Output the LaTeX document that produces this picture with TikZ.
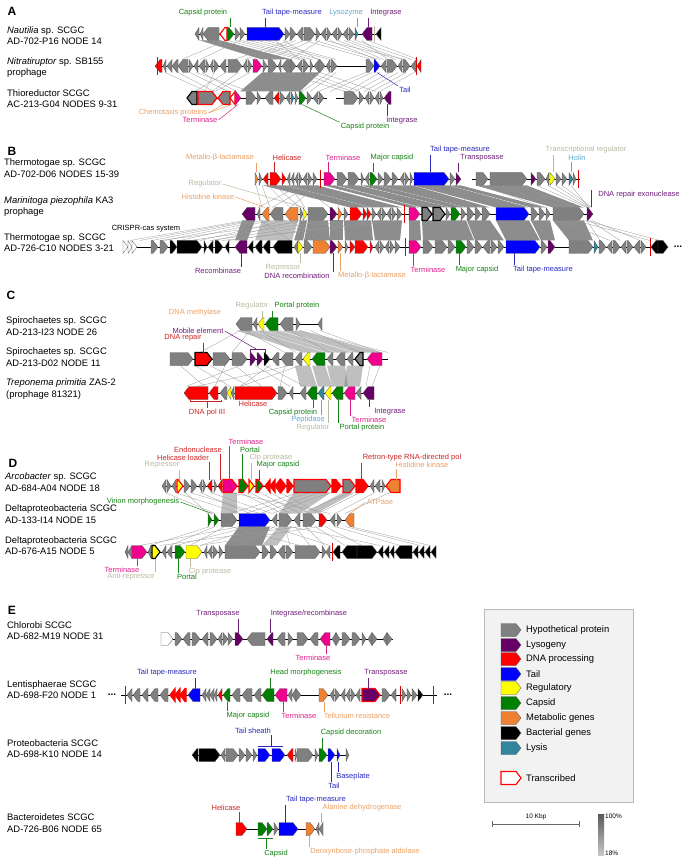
\documentclass[tikz,border=0pt]{standalone}
\usepackage{fontspec}
\setmainfont{Liberation Sans}
\usetikzlibrary{calc}
\definecolor{hypgray}{RGB}{128,128,128}
\definecolor{lysopurple}{RGB}{102,0,102}
\definecolor{dnared}{RGB}{255,0,0}
\definecolor{tailblue}{RGB}{0,0,255}
\definecolor{regyellow}{RGB}{255,255,0}
\definecolor{capgreen}{RGB}{0,128,0}
\definecolor{metorange}{RGB}{238,130,50}
\definecolor{lysisteal}{RGB}{49,133,156}
\definecolor{termpink}{RGB}{240,0,140}
\definecolor{legbg}{RGB}{242,242,242}
\definecolor{labgreen}{RGB}{20,130,20}
\definecolor{labblue}{RGB}{40,40,190}
\definecolor{labpurple}{RGB}{110,30,120}
\definecolor{labpink}{RGB}{220,30,140}
\definecolor{labred}{RGB}{205,35,35}
\definecolor{laborange}{RGB}{235,160,100}
\definecolor{labkhaki}{RGB}{185,185,160}
\definecolor{labcyan}{RGB}{95,170,210}

\tikzset{
  gbase/.style={draw=black!65, line width=0.3pt},
  ghyp/.style={gbase, fill=hypgray},
  glys/.style={gbase, fill=lysopurple},
  gdna/.style={gbase, fill=dnared},
  gtail/.style={gbase, fill=tailblue},
  greg/.style={gbase, fill=regyellow},
  gcap/.style={gbase, fill=capgreen},
  gmet/.style={gbase, fill=metorange},
  gbac/.style={gbase, fill=black},
  glyt/.style={gbase, fill=lysisteal},
  gter/.style={gbase, fill=termpink},
  gwht/.style={gbase, fill=white},
  trx/.style={draw=red, line width=1.1pt},
  thyp/.style={ghyp, trx}, twht/.style={gwht, trx}, tdna/.style={gdna, trx},
  tter/.style={gter, trx}, tcap/.style={gcap, trx}, treg/.style={greg, trx},
  tmet/.style={gmet, trx}, tlys/.style={glys, trx},
  bld/.style={draw=black, line width=1.1pt},
  bhyp/.style={ghyp, bld}, bdna/.style={gdna, bld}, breg/.style={greg, bld},
  bb/.style={black, line width=0.7pt},
  rbar/.style={red!85!black, line width=0.9pt},
  lkdark/.style={fill=black!72, fill opacity=0.62},
  lkmid/.style={fill=black!50, fill opacity=0.5},
  lklight/.style={draw=black!40, line width=0.3pt},
  lab/.style={font=\fontsize{7.5}{8}\selectfont, inner sep=1pt},
  ldr/.style={line width=0.5pt},
  spname/.style={font=\fontsize{9.4}{11.5}\selectfont, align=left, anchor=west, inner sep=0pt},
  panel/.style={font=\fontsize{12}{12}\selectfont\bfseries, inner sep=0pt},
  tiny/.style={font=\fontsize{6.5}{7}\selectfont, inner sep=1pt},
}

% one gene arrow: from, to, y, direction (1 / -1), style
\def\gh{6.5}
\newcommand{\gene}[5]{%
  \pgfmathsetmacro{\gtip}{min(5,#2-#1)}%
  \edef\gsty{#5}%
  \ifnum#4>0
    \expandafter\draw\expandafter[\gsty] (#1,#3-\gh) -- (#2-\gtip,#3-\gh) -- (#2,#3) -- (#2-\gtip,#3+\gh) -- (#1,#3+\gh) -- cycle;
  \else
    \expandafter\draw\expandafter[\gsty] (#2,#3-\gh) -- (#1+\gtip,#3-\gh) -- (#1,#3) -- (#1+\gtip,#3+\gh) -- (#2,#3+\gh) -- cycle;
  \fi}
\newcommand{\genes}[2]{\foreach \ga/\gb/\gd/\gs in {#2} {\gene{\ga}{\gb}{#1}{\gd}{\gs}}}
% homology links between two tracks
\newcommand{\bands}[4][lkdark]{\foreach \ua/\ub/\la/\lb in {#4} {\fill[#1] (\ua,#2) -- (\ub,#2) -- (\lb,#3) -- (\la,#3) -- cycle;}}
\newcommand{\strands}[4][lklight]{\foreach \ua/\la in {#4} {\draw[#1] (\ua,#2) -- (\la,#3);}}
\newcommand{\rbars}[2]{\foreach \rx in {#2} {\draw[rbar] (\rx,#1-9) -- (\rx,#1+9);}}

\begin{document}
\begin{tikzpicture}[x=1pt, y=-1pt]
  \useasboundingbox (0,0) rectangle (687,866);

  % ---------------- panel A
  \node[panel] (pA) at (12,11) {A};
  \node[spname] (spA1) at (7,35.5) {\textit{Nautilia} sp. SCGC\\AD-702-P16 NODE 14};
  \node[spname] (spA2) at (7,67.5) {\textit{Nitratiruptor} sp. SB155\\prophage};
  \node[spname] (spA3) at (7,98.5) {Thioreductor SCGC\\AC-213-G04 NODES 9-31};

  \bands{40.5}{59.5}{200/211/262/276, 211/221/276/292}
  \strands{40.5}{59.5}{228/300, 236/306, 242/312, 250/320, 258/330, 266/336, 275/300, 283/318, 290/234, 296/245, 304/252, 312/268, 320/290, 330/376, 338/384, 344/396, 350/402, 356/412, 362/388, 368/418, 305/372, 315/380, 325/405, 240/200, 226/182}
  \bands{72.5}{91.5}{262/290/240/262, 290/320/262/300}
  \strands{72.5}{91.5}{165/207, 178/214, 190/228, 202/236, 214/205, 226/195, 238/212, 330/302, 336/310, 366/318, 372/330, 380/348, 390/355, 398/364, 406/372, 414/380, 300/352, 310/360, 320/376, 285/345, 196/250, 250/215}

  \draw[bb] (195,34) -- (381,34);
  \draw[bb] (155,66) -- (421,66);
  \draw[bb] (187,98) -- (327,98);
  \draw[bb] (336,98) -- (391,98);
  \genes{34}{195/199/-1/ghyp, 200/203/-1/ghyp, 203/219/-1/ghyp, 220/227/-1/twht, 227/234/1/gcap, 235/240/1/ghyp, 240/245/1/ghyp, 247/284/1/gtail, 285/290/1/ghyp, 290/296/1/ghyp, 297/303/-1/ghyp, 304/315/1/ghyp, 316/320/1/ghyp, 321/326/-1/ghyp, 327/331/1/ghyp, 332/337/-1/ghyp, 338/342/1/ghyp, 343/348/-1/ghyp, 349/354/1/ghyp, 355/358/1/glyt, 362/372/-1/glys, 376/381/-1/gbac}
  \draw[draw={rgb,255:red,200;green,180;blue,150}, line width=1pt] (374,26) -- (374,42);
  \genes{66}{155/162/-1/gdna, 163/166/-1/ghyp, 167/172/-1/ghyp, 172/178/-1/ghyp, 178/188/-1/ghyp, 189/193/1/ghyp, 194/198/-1/ghyp, 199/205/-1/ghyp, 206/209/1/ghyp, 210/213/-1/ghyp, 214/219/1/ghyp, 220/226/-1/ghyp, 228/242/1/ghyp, 243/247/-1/ghyp, 248/252/1/ghyp, 253/262/1/gter, 263/267/1/ghyp, 268/277/1/ghyp, 278/281/-1/ghyp, 282/291/-1/ghyp, 291/296/1/ghyp, 297/302/-1/ghyp, 303/309/1/ghyp, 310/313/1/ghyp, 314/319/-1/ghyp, 319/325/1/ghyp, 326/330/-1/ghyp, 331/337/1/ghyp, 366/374/1/ghyp, 374/380/1/gtail, 381/386/-1/ghyp, 387/397/1/ghyp, 398/402/-1/ghyp, 403/410/1/ghyp, 411/416/-1/ghyp, 417/421/-1/gdna}
  \rbars{66}{157, 416}
  \genes{98}{187/197/-1/bhyp, 198/217/1/thyp, 218/230/-1/thyp, 230/235/-1/twht, 235/241/1/gter, 246/256/1/ghyp, 257/261/1/ghyp, 265/273/-1/ghyp, 274/279/-1/gdna, 280/285/1/ghyp, 286/290/-1/ghyp, 291/294/1/glyt, 295/298/1/ghyp, 299/306/1/gcap, 307/312/1/ghyp, 313/318/-1/ghyp, 319/324/1/ghyp, 344/358/1/ghyp, 359/364/1/ghyp, 365/369/-1/ghyp, 370/374/1/ghyp, 375/379/-1/ghyp, 380/383/1/ghyp, 384/391/-1/glys}

  \node[lab, labgreen] (lAcap) at (203,13) {Capsid protein};
  \coordinate (gAcap) at (230,27.5);
  \draw[ldr, labgreen] (lAcap.south -| gAcap) -- (gAcap);
  \node[lab, labblue] (lAtape) at (292,13) {Tail tape-measure};
  \coordinate (gAtape) at (265,27.5);
  \draw[ldr, labblue] (lAtape.south -| gAtape) -- (gAtape);
  \node[lab, labcyan] (lAlyso) at (346,13) {Lysozyme};
  \coordinate (gAlyso) at (357,27.5);
  \draw[ldr, labcyan] (lAlyso.south -| gAlyso) -- (gAlyso);
  \node[lab, labpurple] (lAint) at (386,13) {Integrase};
  \coordinate (gAint) at (368,27.5);
  \draw[ldr, labpurple] (lAint.south -| gAint) -- (gAint);
  \node[lab, labblue] (lAtail) at (405,90) {Tail};
  \coordinate (gAtail) at (377,72.5);
  \draw[ldr, labblue] (lAtail.north west) -- (gAtail);
  \node[lab, laborange] (lAchem) at (173,113) {Chemotaxis proteins};
  \coordinate (gAchemA) at (223,104.5);
  \coordinate (gAchemB) at (232,104.5);
  \draw[ldr, laborange] (lAchem.east) -- (gAchemA);
  \draw[ldr, laborange] (lAchem.east) -- (gAchemB);
  \node[lab, labpink] (lAter) at (200,120) {Terminase};
  \coordinate (gAter) at (238,104.5);
  \draw[ldr, labpink] (lAter.east) -- (gAter);
  \node[lab, labgreen] (lAcapb) at (365,127) {Capsid protein};
  \coordinate (gAcapb) at (302,104.5);
  \draw[ldr, labgreen] (lAcapb.north west) -- (gAcapb);
  \node[lab, labpurple] (lAintb) at (402,121) {Integrase};
  \coordinate (gAintb) at (387,104.5);
  \draw[ldr, labpurple] (gAintb) -- (gAintb |- lAintb.north);

  % ---------------- panel B
  \node[panel] (pB) at (12,151) {B};
  \node[spname] (spB1) at (4,168) {Thermotogae sp. SCGC\\AD-702-D06 NODES 15-39};
  \node[spname] (spB2) at (4,206.5) {\textit{Marinitoga piezophila} KA3\\prophage};
  \node[spname] (spB3) at (4,242.5) {Thermotogae sp. SCGC\\AD-726-C10 NODES 3-21};

  \bands{185.5}{207.5}{263/286/350/371, 287/318/372/402, 324/335/409/420, 337/359/422/450, 361/377/451/466, 378/413/467/490, 414/449/496/529, 450/461/531/546, 476/527/553/584}
  \strands{185.5}{207.5}{256/262, 262/270, 268/290, 275/300, 290/305, 300/258, 310/272, 318/290, 537/587, 548/588, 556/590, 562/592, 571/589, 300/330, 340/338, 480/545, 500/560, 520/575, 455/470}
  \bands{220.5}{240.5}{242/255/235/247, 300/307/294/303, 308/328/304/330, 330/343/330/343, 344/371/345/373, 372/402/375/400, 409/420/409/421, 422/466/423/474, 467/490/475/504, 496/529/506/540, 531/550/541/555, 553/584/569/593}
  \bands[lkmid]{220.5}{240.5}{262/298/255/292}
  \strands{220.5}{240.5}{245/130, 250/140, 255/152, 262/165, 270/180, 285/200, 300/215, 310/160, 330/190, 350/210, 380/228, 400/222, 587/600, 590/620, 592/640, 585/660, 560/610, 575/650, 260/290, 290/320}

  \draw[bb] (255,179) -- (461,179);
  \draw[bb] (472,179) -- (580,179);
  \draw[bb] (242,214) -- (593,214);
  \draw[bb] (123,247) -- (668,247);
  \genes{179}{255/258/1/gmet, 259/262/1/ghyp, 263/268/-1/gdna, 270/281/1/gdna, 282/286/1/gdna, 287/290/-1/ghyp, 291/294/-1/ghyp, 295/298/-1/ghyp, 299/302/1/ghyp, 303/307/-1/ghyp, 308/312/1/ghyp, 313/317/1/ghyp, 324/335/1/gter, 337/347/1/ghyp, 348/359/1/ghyp, 361/364/1/ghyp, 365/369/-1/ghyp, 370/377/1/gcap, 378/383/1/ghyp, 384/391/1/ghyp, 392/398/1/ghyp, 400/404/-1/ghyp, 405/409/1/ghyp, 410/413/1/ghyp, 414/449/1/gtail, 450/455/1/ghyp, 456/461/1/glys, 476/488/1/ghyp, 490/527/1/ghyp, 531/536/1/glys, 537/545/1/ghyp, 546/549/-1/ghyp, 550/555/1/greg, 556/561/1/ghyp, 562/567/1/ghyp, 569/573/1/glyt, 573/576/1/ghyp}
  \rbars{179}{320, 578}
  \genes{214}{242/255/-1/glys, 257/260/-1/ghyp, 262/269/-1/gmet, 270/283/-1/ghyp, 285/298/-1/gmet, 300/303/1/ghyp, 303/307/1/greg, 308/328/1/ghyp, 330/337/1/glys, 338/342/1/gmet, 344/348/1/ghyp, 350/362/1/gdna, 363/367/1/gdna, 367/371/1/gdna, 372/376/1/ghyp, 377/381/-1/ghyp, 382/386/1/ghyp, 387/391/-1/ghyp, 392/396/1/ghyp, 397/402/1/ghyp, 409/420/1/gter, 422/432/1/bhyp, 433/445/1/bhyp, 446/450/1/ghyp, 451/460/1/gcap, 461/466/1/ghyp, 467/474/1/ghyp, 475/481/1/ghyp, 482/490/1/ghyp, 496/529/1/gtail, 531/538/1/ghyp, 539/545/1/ghyp, 546/550/1/ghyp, 553/584/1/ghyp, 587/593/1/glys}
  \rbars{214}{404}
  \genes{247}{123/128/1/gwht, 128/132/1/gwht, 132/137/1/gwht, 151/158/1/ghyp, 160/168/1/ghyp, 170/177/1/gbac, 177/202/1/gbac, 204/207/1/gbac, 208/213/-1/gbac, 215/223/1/gbac, 225/229/-1/gbac, 235/247/-1/glys, 248/253/-1/gbac, 255/262/-1/gbac, 263/270/-1/gbac, 273/292/-1/gbac, 294/298/-1/ghyp, 298/303/1/greg, 304/312/1/ghyp, 313/330/1/gmet, 330/337/1/glys, 338/343/1/gmet, 345/348/1/ghyp, 350/355/1/gdna, 355/368/1/gdna, 370/373/1/gdna, 375/379/-1/ghyp, 380/384/1/ghyp, 385/389/-1/ghyp, 390/394/1/ghyp, 395/400/1/ghyp, 409/421/1/gter, 423/433/1/ghyp, 435/447/1/ghyp, 448/455/1/ghyp, 456/466/1/gcap, 467/474/1/ghyp, 475/482/1/ghyp, 483/490/-1/ghyp, 491/497/1/ghyp, 498/504/1/ghyp, 506/540/1/gtail, 541/547/1/ghyp, 548/555/1/glys, 569/593/1/ghyp, 594/598/1/glyt, 599/606/1/ghyp, 607/612/-1/ghyp, 613/620/1/ghyp, 621/626/-1/ghyp, 627/633/1/ghyp, 634/640/-1/ghyp, 641/646/1/ghyp, 651/658/-1/gbac, 658/668/1/gbac}
  \rbars{247}{405, 650}
  \node[font=\bfseries] (dotsB) at (678,247) {...};

  \node[lab, laborange] (lBmet) at (220,158) {Metallo-β-lactamase};
  \coordinate (gBmet) at (256,172.5);
  \draw[ldr, laborange] (lBmet.south -| gBmet) -- (gBmet);
  \node[lab, labred] (lBhel) at (287,158) {Helicase};
  \coordinate (gBhel) at (274,172.5);
  \draw[ldr, labred] (lBhel.south -| gBhel) -- (gBhel);
  \node[lab, labpink] (lBter) at (343,158) {Terminase};
  \coordinate (gBter) at (328,172.5);
  \draw[ldr, labpink] (lBter.south -| gBter) -- (gBter);
  \node[lab, labgreen] (lBcap) at (392,158) {Major capsid};
  \coordinate (gBcap) at (373,172.5);
  \draw[ldr, labgreen] (lBcap.south -| gBcap) -- (gBcap);
  \node[lab, labblue] (lBtape) at (460,150) {Tail tape-measure};
  \coordinate (gBtape) at (430,172.5);
  \draw[ldr, labblue] (lBtape.south -| gBtape) -- (gBtape);
  \node[lab, labpurple] (lBtra) at (482,158) {Transposase};
  \coordinate (gBtra) at (458,172.5);
  \draw[ldr, labpurple] (lBtra.south -| gBtra) -- (gBtra);
  \node[lab, labkhaki] (lBtreg) at (586,150) {Transcriptional regulator};
  \coordinate (gBtreg) at (553,172.5);
  \draw[ldr, labkhaki] (lBtreg.south -| gBtreg) -- (gBtreg);
  \node[lab, labcyan] (lBhol) at (577,158) {Holin};
  \coordinate (gBhol) at (571,172.5);
  \draw[ldr, labcyan] (lBhol.south -| gBhol) -- (gBhol);
  \node[lab, labkhaki] (lBreg) at (205,184) {Regulator};
  \coordinate (gBreg) at (304,207.5);
  \draw[ldr, labkhaki] (lBreg.east) -- (gBreg);
  \node[lab, laborange] (lBhis) at (208,197) {Histidine kinase};
  \coordinate (gBhis) at (265,207.5);
  \draw[ldr, laborange] (lBhis.east) -- (gBhis);
  \node[lab, labpurple] (lBexo) at (639,195) {DNA repair exonuclease};
  \coordinate (gBexo) at (591,207.5);
  \draw[ldr, labpurple] (gBexo) -- (gBexo |- lBexo.north);
  \node[lab, black] (lBcrispr) at (146,229) {CRISPR-cas system};
  \node[lab, labpurple] (lBrec) at (218,271) {Recombinase};
  \coordinate (gBrec) at (241,253.5);
  \draw[ldr, labpurple] (gBrec) -- (gBrec |- lBrec.north);
  \node[lab, labkhaki] (lBrep) at (283,268) {Repressor};
  \coordinate (gBrep) at (300,253.5);
  \draw[ldr, labkhaki] (gBrep) -- (gBrep |- lBrep.north);
  \node[lab, labpurple] (lBdrec) at (297,276) {DNA recombination};
  \coordinate (gBdrec) at (333,253.5);
  \draw[ldr, labpurple] (gBdrec) -- (gBdrec |- lBdrec.north);
  \node[lab, laborange] (lBmetb) at (372,276) {Metallo-β-lactamase};
  \coordinate (gBmetb) at (340,253.5);
  \draw[ldr, laborange] (gBmetb) -- (gBmetb |- lBmetb.north);
  \node[lab, labpink] (lBterb) at (428,270) {Terminase};
  \coordinate (gBterb) at (413,253.5);
  \draw[ldr, labpink] (gBterb) -- (gBterb |- lBterb.north);
  \node[lab, labgreen] (lBcapb) at (477,270) {Major capsid};
  \coordinate (gBcapb) at (459,253.5);
  \draw[ldr, labgreen] (gBcapb) -- (gBcapb |- lBcapb.north);
  \node[lab, labblue] (lBtapeb) at (543,270) {Tail tape-measure};
  \coordinate (gBtapeb) at (514,253.5);
  \draw[ldr, labblue] (gBtapeb) -- (gBtapeb |- lBtapeb.north);

  % ---------------- panel C
  \node[panel] (pC) at (11,295) {C};
  \node[spname] (spC1) at (6,326) {Spirochaetes sp. SCGC\\AD-213-I23 NODE 26};
  \node[spname] (spC2) at (6,357) {Spirochaetes sp. SCGC\\AD-213-D02 NODE 11};
  \node[spname] (spC3) at (6,389) {\textit{Treponema primitia} ZAS-2\\(prophage 81321)};

  \bands[lkmid]{330.5}{352.5}{236/252/303/325, 253/264/327/335, 265/278/336/353, 280/300/355/382}
  \strands{330.5}{352.5}{300/388, 320/380, 240/200, 250/232, 260/296, 290/330, 310/360, 245/285}
  \bands[lkmid]{365.5}{386.5}{295/310/300/317, 312/325/318/332, 327/345/332/348, 347/363/344/360}
  \strands{365.5}{386.5}{180/205, 195/230, 210/250, 225/215, 235/262, 240/186, 255/290, 265/305, 270/240, 285/280, 380/372, 370/366, 290/196, 300/240}

  \draw[bb] (236,324) -- (322,324);
  \draw[bb] (170,359) -- (388,359);
  \draw[bb] (184,393) -- (374,393);
  \genes{324}{236/252/-1/ghyp, 253/257/-1/ghyp, 258/264/-1/greg, 265/278/-1/gcap, 280/293/-1/ghyp, 296/300/1/ghyp, 318/322/-1/ghyp}
  \genes{359}{170/193/1/ghyp, 195/212/1/bdna, 213/230/1/ghyp, 232/247/1/ghyp, 250/256/1/glys, 257/263/1/glys, 264/270/1/gbac, 272/279/-1/ghyp, 281/293/-1/ghyp, 295/302/-1/ghyp, 303/310/-1/greg, 312/325/-1/gcap, 327/333/-1/ghyp, 336/345/-1/ghyp, 347/353/-1/ghyp, 355/363/-1/bhyp, 367/382/-1/gter}
  \genes{393}{184/208/-1/gdna, 209/218/-1/gdna, 220/227/-1/ghyp, 227/231/-1/greg, 231/234/-1/ghyp, 235/277/1/gdna, 278/287/1/ghyp, 289/293/-1/ghyp, 300/306/-1/ghyp, 307/317/-1/gcap, 318/324/-1/glyt, 325/331/-1/greg, 332/343/-1/gcap, 344/355/-1/gter, 356/361/-1/ghyp, 363/374/-1/glys}

  \node[lab, laborange] (lCmeth) at (195,313) {DNA methylase};
  \node[lab, labkhaki] (lCreg) at (252,306) {Regulator};
  \coordinate (gCreg) at (262,317.5);
  \draw[ldr, labkhaki] (lCreg.south -| gCreg) -- (gCreg);
  \node[lab, labgreen] (lCport) at (297,306) {Portal protein};
  \coordinate (gCport) at (272,317.5);
  \draw[ldr, labgreen] (lCport.south -| gCport) -- (gCport);
  \node[lab, labpurple] (lCmob) at (198,331) {Mobile element};
  \coordinate (gCmob) at (257,349.5);
  \draw[ldr, labpurple] (lCmob.east) -- (gCmob);
  \draw[ldr, labpurple] ($(gCmob)+(-7,3)$) |- ($(gCmob)+(8,0)$) -- ++(0,3);
  \node[lab, labred] (lCrep) at (183,338) {DNA repair};
  \coordinate (gCrep) at (203,352.5);
  \draw[ldr, labred] (lCrep.south -| gCrep) -- (gCrep);
  \node[lab, labred] (lCpol) at (207,413) {DNA pol III};
  \coordinate (gCpol) at (207,401.5);
  \draw[ldr, labred] ($(gCpol)+(-17,-2)$) |- ($(gCpol)+(14,0)$) -- ++(0,-2);
  \draw[ldr, labred] (gCpol) -- (gCpol |- lCpol.north);
  \node[lab, labred] (lChel) at (253,404) {Helicase};
  \node[lab, labgreen] (lCcap) at (293,413) {Capsid protein};
  \coordinate (gCcap) at (313,399.5);
  \draw[ldr, labgreen] (gCcap) -- (gCcap |- lCcap.north);
  \node[lab, labcyan] (lCpep) at (308,420) {Peptidase};
  \coordinate (gCpep) at (321,399.5);
  \draw[ldr, labcyan] (gCpep) -- (gCpep |- lCpep.north);
  \node[lab, labkhaki] (lCregb) at (313,427.5) {Regulator};
  \coordinate (gCregb) at (328,399.5);
  \draw[ldr, labkhaki] (gCregb) -- (gCregb |- lCregb.north);
  \node[lab, labgreen] (lCportb) at (362,428) {Portal protein};
  \coordinate (gCportb) at (338,399.5);
  \draw[ldr, labgreen] (gCportb) -- (gCportb |- lCportb.north);
  \node[lab, labpink] (lCter) at (369,419.5) {Terminase};
  \coordinate (gCter) at (350,399.5);
  \draw[ldr, labpink] (gCter) -- (gCter |- lCter.north);
  \node[lab, labpurple] (lCint) at (390,412) {Integrase};
  \coordinate (gCint) at (369,399.5);
  \draw[ldr, labpurple] (gCint) -- (gCint |- lCint.north);

  % ---------------- panel D
  \node[panel] (pD) at (13,463) {D};
  \node[spname] (spD1) at (5,482) {\textit{Arcobacter} sp. SCGC\\AD-684-A04 NODE 18};
  \node[spname] (spD2) at (5,514) {Deltaproteobacteria SCGC\\AD-133-I14 NODE 15};
  \node[spname] (spD3) at (5,545.5) {Deltaproteobacteria SCGC\\AD-676-A15 NODE 5};

  \bands[lkmid]{492.5}{513.5}{223/237/221/237, 294/331/279/300, 343/355/303/316}
  \strands{492.5}{513.5}{165/215, 175/240, 190/260, 200/250, 210/272, 240/282, 250/290, 260/300, 270/310, 280/320, 300/230, 310/245, 320/260, 330/272, 350/300, 360/318, 375/335, 390/345, 185/208, 230/330}
  \bands{526.5}{545.5}{239/270/225/262}
  \bands[lkmid]{526.5}{545.5}{279/292/262/277}
  \strands{526.5}{545.5}{210/150, 215/170, 225/190, 240/140, 250/176, 260/200, 275/240, 285/290, 295/310, 305/325, 315/345, 325/362, 335/400, 345/420, 350/430, 300/160, 320/200, 230/300, 270/330, 290/380}

  \draw[bb] (162,486) -- (400,486);
  \draw[bb] (208,520) -- (354,520);
  \draw[bb] (125,552) -- (436,552);
  \genes{486}{162/166/-1/ghyp, 167/171/1/ghyp, 172/176/-1/ghyp, 177/183/1/treg, 184/190/1/ghyp, 191/197/1/ghyp, 199/202/-1/ghyp, 203/206/1/ghyp, 207/212/-1/gdna, 214/217/1/ghyp, 218/222/-1/gdna, 223/237/1/tter, 239/248/1/tcap, 249/254/1/treg, 256/263/1/tcap, 265/270/-1/tdna, 270/275/-1/tdna, 275/280/-1/tdna, 280/286/1/tdna, 287/293/1/tdna, 294/331/1/thyp, 332/341/1/tdna, 343/355/1/thyp, 356/368/1/tdna, 370/374/-1/ghyp, 375/380/-1/ghyp, 382/385/1/ghyp, 386/400/-1/tmet}
  \genes{520}{208/212/1/gcap, 214/219/1/gcap, 221/237/1/ghyp, 239/270/1/gtail, 272/277/-1/ghyp, 279/292/1/ghyp, 294/300/-1/ghyp, 303/316/1/ghyp, 319/327/1/gdna, 330/335/-1/ghyp, 337/342/1/ghyp, 345/354/-1/gmet}
  \genes{552}{125/128/-1/ghyp, 128/132/-1/ghyp, 132/147/1/gter, 148/151/-1/ghyp, 152/160/1/breg, 162/166/-1/ghyp, 167/172/-1/ghyp, 175/185/1/gcap, 186/202/1/greg, 204/207/-1/ghyp, 208/212/-1/ghyp, 213/218/1/ghyp, 219/223/1/ghyp, 225/260/1/ghyp, 262/269/1/ghyp, 270/277/1/ghyp, 278/285/-1/ghyp, 286/293/1/ghyp, 295/320/1/ghyp, 322/326/1/ghyp, 326/330/-1/ghyp, 333/340/-1/gbac, 342/357/-1/gbac, 357/377/1/gbac, 378/383/-1/gbac, 384/389/-1/gbac, 390/394/-1/gbac, 395/412/-1/gbac, 413/418/-1/gbac, 419/424/-1/gbac, 425/430/-1/gbac, 431/436/-1/gbac}
  \rbars{552}{332}

  \node[lab, labpink] (lDter) at (246,442) {Terminase};
  \coordinate (gDter) at (229,479.5);
  \draw[ldr, labpink] (lDter.south -| gDter) -- (gDter);
  \node[lab, labred] (lDend) at (198,450) {Endonuclease};
  \coordinate (gDend) at (220,479.5);
  \draw[ldr, labred] (lDend.south -| gDend) -- (gDend);
  \node[lab, labgreen] (lDport) at (250,450) {Portal};
  \coordinate (gDport) at (242,479.5);
  \draw[ldr, labgreen] (lDport.south -| gDport) -- (gDport);
  \node[lab, labred] (lDhl) at (183,458) {Helicase loader};
  \coordinate (gDhl) at (209,479.5);
  \draw[ldr, labred] (lDhl.south -| gDhl) -- (gDhl);
  \node[lab, labkhaki] (lDclp) at (271,458) {Clp protease};
  \coordinate (gDclp) at (251,479.5);
  \draw[ldr, labkhaki] (lDclp.south -| gDclp) -- (gDclp);
  \node[lab, labkhaki] (lDrep) at (162,465) {Repressor};
  \coordinate (gDrep) at (179,479.5);
  \draw[ldr, labkhaki] (lDrep.south -| gDrep) -- (gDrep);
  \node[lab, labgreen] (lDcap) at (278,465) {Major capsid};
  \coordinate (gDcap) at (259,479.5);
  \draw[ldr, labgreen] (lDcap.south -| gDcap) -- (gDcap);
  \node[lab, labred] (lDret) at (412,458) {Retron-type RNA-directed pol};
  \coordinate (gDret) at (361,479.5);
  \draw[ldr, labred] (lDret.south -| gDret) -- (gDret);
  \node[lab, laborange] (lDhis) at (422,465) {Histidine kinase};
  \coordinate (gDhis) at (396,479.5);
  \draw[ldr, laborange] (lDhis.south -| gDhis) -- (gDhis);
  \node[lab, labgreen] (lDvir) at (143,502) {Virion morphogenesis};
  \coordinate (gDvir) at (212,513.5);
  \draw[ldr, labgreen] (lDvir.east) -- (gDvir);
  \node[lab, laborange] (lDatp) at (380,502) {ATPase};
  \coordinate (gDatp) at (350,513.5);
  \draw[ldr, laborange] (lDatp.west) -- (gDatp);
  \node[lab, labpink] (lDterb) at (122,570) {Terminase};
  \coordinate (gDterb) at (137,558.5);
  \draw[ldr, labpink] (gDterb) -- (gDterb |- lDterb.north);
  \node[lab, labkhaki] (lDanti) at (131,577) {Anti-repressor};
  \coordinate (gDanti) at (155,558.5);
  \draw[ldr, labkhaki] (gDanti) -- (gDanti |- lDanti.north);
  \node[lab, labgreen] (lDportb) at (187,577) {Portal};
  \coordinate (gDportb) at (178,558.5);
  \draw[ldr, labgreen] (gDportb) -- (gDportb |- lDportb.north);
  \node[lab, labkhaki] (lDclpb) at (210,572) {Clp protease};
  \coordinate (gDclpb) at (190,558.5);
  \draw[ldr, labkhaki] (gDclpb) -- (gDclpb |- lDclpb.north);

  % ---------------- panel E
  \node[panel] (pE) at (12,610) {E};
  \node[spname] (spE1) at (7,630.5) {Chlorobi SCGC\\AD-682-M19 NODE 31};
  \node[spname] (spE2) at (7,689.5) {Lentisphaerae SCGC\\AD-698-F20 NODE 1};
  \node[spname] (spE3) at (7,748.5) {Proteobacteria SCGC\\AD-698-K10 NODE 14};
  \node[spname] (spE4) at (7,823) {Bacteroidetes SCGC\\AD-726-B06 NODE 65};

  \draw[bb] (161,639) -- (393,639);
  \draw[bb] (121,695) -- (437,695);
  \draw[bb] (192,755) -- (349,755);
  \draw[bb] (236,829) -- (323,829);
  \genes{639}{161/173/1/gwht, 175/182/1/ghyp, 183/190/-1/ghyp, 192/200/1/ghyp, 202/208/-1/ghyp, 210/217/1/ghyp, 218/222/-1/ghyp, 223/228/1/ghyp, 228/233/1/ghyp, 235/243/1/glys, 247/265/-1/ghyp, 267/273/-1/glys, 277/285/-1/ghyp, 288/293/1/ghyp, 297/308/1/ghyp, 310/318/-1/ghyp, 320/330/-1/gter, 332/336/-1/ghyp, 336/340/1/ghyp, 342/350/1/ghyp, 352/360/1/ghyp, 362/366/1/ghyp, 368/372/-1/ghyp, 372/377/1/ghyp, 383/387/-1/ghyp, 387/392/1/ghyp}
  \genes{695}{127/132/-1/ghyp, 133/140/-1/ghyp, 142/148/-1/ghyp, 150/158/-1/ghyp, 160/168/-1/ghyp, 170/175/-1/tdna, 175/180/-1/tdna, 180/186/-1/tdna, 188/200/-1/gtail, 202/206/-1/ghyp, 206/210/-1/ghyp, 210/214/-1/ghyp, 214/217/-1/ghyp, 218/222/-1/gdna, 223/230/-1/gcap, 232/240/-1/ghyp, 242/252/-1/ghyp, 254/261/-1/ghyp, 262/274/-1/gcap, 275/287/-1/gter, 288/292/-1/ghyp, 292/296/-1/ghyp, 296/301/1/ghyp, 319/328/1/gmet, 330/334/-1/ghyp, 335/340/1/ghyp, 341/345/-1/ghyp, 346/350/-1/ghyp, 351/355/1/ghyp, 356/360/-1/ghyp, 362/380/1/tlys, 382/390/1/ghyp, 391/396/-1/ghyp, 402/406/1/ghyp, 407/411/1/ghyp, 412/417/1/ghyp, 418/423/1/gbac}
  \rbars{695}{125, 400, 433}
  \node[font=\bfseries] (dotsEl) at (112,695) {...};
  \node[font=\bfseries] (dotsEr) at (448,695) {...};
  \genes{755}{192/198/-1/gbac, 199/220/1/gbac, 221/225/-1/ghyp, 226/238/1/ghyp, 239/245/1/ghyp, 246/252/1/ghyp, 253/257/1/ghyp, 258/270/1/gtail, 272/285/1/gtail, 287/293/-1/gdna, 295/297/1/ghyp, 297/313/1/ghyp, 315/318/1/ghyp, 319/327/1/gcap, 328/335/1/gtail, 337/340/1/gtail, 346/349/1/ghyp}
  \genes{829}{236/247/1/gdna, 258/267/1/gcap, 267/273/1/gcap, 274/278/1/ghyp, 279/298/1/gtail, 306/315/1/gmet, 316/319/-1/ghyp, 319/323/-1/ghyp}

  \node[lab, labpurple] (lEtra) at (218,614) {Transposase};
  \coordinate (gEtra) at (238,632.5);
  \draw[ldr, labpurple] (lEtra.south -| gEtra) -- (gEtra);
  \node[lab, labpurple] (lEint) at (309,614) {Integrase/recombinase};
  \coordinate (gEint) at (270,632.5);
  \draw[ldr, labpurple] (lEint.south -| gEint) -- (gEint);
  \node[lab, labpink] (lEter) at (313,658) {Terminase};
  \coordinate (gEter) at (326,645.5);
  \draw[ldr, labpink] (gEter) -- (gEter |- lEter.north);
  \node[lab, labblue] (lEtape) at (167,673) {Tail tape-measure};
  \coordinate (gEtape) at (195,688.5);
  \draw[ldr, labblue] (lEtape.south -| gEtape) -- (gEtape);
  \node[lab, labgreen] (lEhead) at (306,673) {Head morphogenesis};
  \coordinate (gEhead) at (270,688.5);
  \draw[ldr, labgreen] (lEhead.south -| gEhead) -- (gEhead);
  \node[lab, labpurple] (lEtrab) at (386,673) {Transposase};
  \coordinate (gEtrab) at (368,688.5);
  \draw[ldr, labpurple] (lEtrab.south -| gEtrab) -- (gEtrab);
  \node[lab, labgreen] (lEcap) at (248,716) {Major capsid};
  \coordinate (gEcap) at (227,701.5);
  \draw[ldr, labgreen] (gEcap) -- (gEcap |- lEcap.north);
  \node[lab, labpink] (lEterb) at (299,716) {Terminase};
  \coordinate (gEterb) at (283,701.5);
  \draw[ldr, labpink] (gEterb) -- (gEterb |- lEterb.north);
  \node[lab, laborange] (lEtel) at (357,716) {Tellurium resistance};
  \coordinate (gEtel) at (324,701.5);
  \draw[ldr, laborange] (gEtel) -- (gEtel |- lEtel.north);
  \node[lab, labblue] (lEsh) at (253,731) {Tail sheath};
  \coordinate (gEsh) at (271,746);
  \draw[ldr, labblue] ($(gEsh)+(-13,0)$) -- ($(gEsh)+(12,0)$);
  \draw[ldr, labblue] (gEsh) -- (gEsh |- lEsh.south);
  \node[lab, labgreen] (lEdec) at (351,733) {Capsid decoration};
  \coordinate (gEdec) at (322,748.5);
  \draw[ldr, labgreen] (lEdec.south -| gEdec) -- (gEdec);
  \node[lab, labblue] (lEtail) at (334,786) {Tail};
  \coordinate (gEtail) at (331,761.5);
  \draw[ldr, labblue] (gEtail) -- (gEtail |- lEtail.north);
  \node[lab, labblue] (lEbase) at (353,777) {Baseplate};
  \coordinate (gEbase) at (338,761.5);
  \draw[ldr, labblue] (gEbase) -- (gEbase |- lEbase.north);
  \node[lab, labred] (lEhel) at (226,808) {Helicase};
  \coordinate (gEhel) at (239,822.5);
  \draw[ldr, labred] (lEhel.south -| gEhel) -- (gEhel);
  \node[lab, labblue] (lEtapeb) at (316,800) {Tail tape-measure};
  \coordinate (gEtapeb) at (285,822.5);
  \draw[ldr, labblue] (lEtapeb.south -| gEtapeb) -- (gEtapeb);
  \node[lab, laborange] (lEala) at (362,808) {Alanine dehydrogenase};
  \coordinate (gEala) at (321,822.5);
  \draw[ldr, laborange] (lEala.south -| gEala) -- (gEala);
  \node[lab, labgreen] (lEcps) at (276,854) {Capsid};
  \coordinate (gEcps) at (266,838);
  \draw[ldr, labgreen] ($(gEcps)+(-8,0)$) -- ($(gEcps)+(7,0)$);
  \draw[ldr, labgreen] (gEcps) -- (gEcps |- lEcps.north);
  \node[lab, laborange] (lEdeo) at (365,852) {Deoxyribose-phosphate aldolase};
  \coordinate (gEdeo) at (309,835.5);
  \draw[ldr, laborange] (gEdeo) -- (gEdeo |- lEdeo.north);

  % ---------------- legend
  \draw[fill=legbg, draw=gray!55] (484,609) rectangle (633,802);
  \foreach \nm/\st/\yy in {Hypothetical protein/ghyp/630, Lysogeny/glys/645, DNA processing/gdna/659, Tail/gtail/674, Regulatory/greg/688, Capsid/gcap/703, Metabolic genes/gmet/718, Bacterial genes/gbac/733, Lysis/glyt/748, Transcribed/twht/778} {
    \gene{501}{521}{\yy}{1}{\st}
    \node[font=\fontsize{9.4}{11}\selectfont, anchor=west, inner sep=0pt] (leg\st) at (526,\yy) {\nm};
  }

  % scale bar and identity shading
  \node[tiny] (kbp) at (536,817) {10 Kbp};
  \draw[black!60, line width=0.5pt] (492,824) -- (579,824);
  \draw[black!60, line width=0.5pt] (492,821) -- (492,827);
  \draw[black!60, line width=0.5pt] (579,821) -- (579,827);
  \shade[top color=black!65, bottom color=black!22] (598,814) rectangle (604,855);
  \node[tiny, anchor=west] (idhi) at (604,816) {100\%};
  \node[tiny, anchor=west] (idlo) at (604,853) {18\%};
\end{tikzpicture}
\end{document}
